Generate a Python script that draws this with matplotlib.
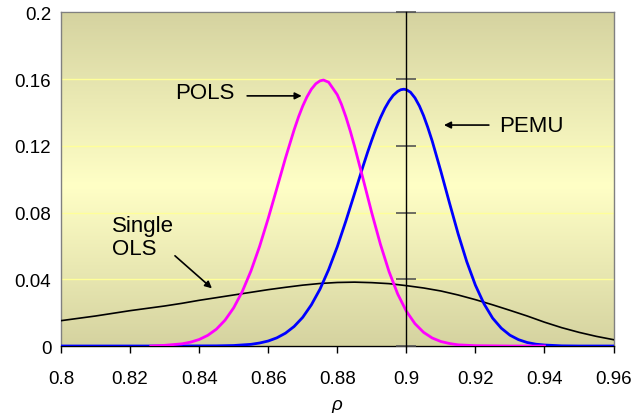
import numpy as np
import matplotlib
matplotlib.use("Agg")
import matplotlib.pyplot as plt
from matplotlib.colors import LinearSegmentedColormap

plt.rcParams['font.family'] = ['Liberation Sans', 'DejaVu Sans']

# ---- data ----
pols_x = [0.826, 0.830, 0.835, 0.8375, 0.840, 0.8425, 0.845, 0.8475, 0.850, 0.8525,
          0.855, 0.8575, 0.860, 0.8625, 0.865, 0.8675, 0.8688, 0.870, 0.8712, 0.8725,
          0.8738, 0.875, 0.876, 0.8775, 0.880, 0.8812, 0.8825, 0.8838, 0.885, 0.8875,
          0.890, 0.8925, 0.895, 0.8975, 0.900, 0.9025, 0.905, 0.9075, 0.910, 0.9125,
          0.915, 0.920, 0.930, 0.940]
pols_y = [0.0000, 0.0004, 0.0013, 0.0023, 0.0039, 0.0064, 0.0101, 0.0155, 0.0229, 0.0327,
          0.0450, 0.0597, 0.0765, 0.0945, 0.1127, 0.1296, 0.1375, 0.1439, 0.1493, 0.1540,
          0.1573, 0.1590, 0.1595, 0.1582, 0.1507, 0.1450, 0.1374, 0.1287, 0.1198, 0.1000,
          0.0798, 0.0610, 0.0446, 0.0312, 0.0209, 0.0134, 0.0082, 0.0048, 0.0027, 0.0015,
          0.0007, 0.0002, 0.0000, 0.0000]

pemu_x = [0.800, 0.830, 0.845, 0.850, 0.855, 0.8575, 0.860, 0.8625, 0.865, 0.8675,
          0.870, 0.8725, 0.875, 0.8775, 0.880, 0.8825, 0.885, 0.8875, 0.8888, 0.890,
          0.8912, 0.8925, 0.8938, 0.895, 0.8962, 0.8975, 0.8984, 0.8993, 0.900, 0.9012,
          0.9025, 0.9038, 0.905, 0.9062, 0.9075, 0.910, 0.9125, 0.915, 0.9175, 0.920,
          0.9225, 0.925, 0.9275, 0.930, 0.9325, 0.935, 0.9375, 0.940, 0.945, 0.950,
          0.960]
pemu_y = [0.0000, 0.0000, 0.0001, 0.0003, 0.0010, 0.0018, 0.0030, 0.0049, 0.0077, 0.0117,
          0.0172, 0.0247, 0.0341, 0.0458, 0.0595, 0.0750, 0.0914, 0.1080, 0.1163, 0.1235,
          0.1303, 0.1369, 0.1426, 0.1469, 0.1503, 0.1527, 0.1537, 0.1540, 0.1537, 0.1522,
          0.1488, 0.1439, 0.1381, 0.1312, 0.1229, 0.1048, 0.0858, 0.0673, 0.0506, 0.0365,
          0.0253, 0.0167, 0.0107, 0.0065, 0.0038, 0.0021, 0.0011, 0.0006, 0.0001, 0.0000,
          0.0000]

ols_x = [0.800, 0.805, 0.810, 0.815, 0.820, 0.825, 0.830, 0.835, 0.840, 0.845,
         0.850, 0.855, 0.860, 0.865, 0.870, 0.875, 0.880, 0.885, 0.890, 0.895,
         0.900, 0.905, 0.910, 0.915, 0.920, 0.925, 0.930, 0.935, 0.940, 0.945,
         0.950, 0.955, 0.960]
ols_y = [0.0152, 0.0166, 0.0180, 0.0196, 0.0212, 0.0226, 0.0240, 0.0256, 0.0274, 0.0290,
         0.0306, 0.0322, 0.0338, 0.0352, 0.0365, 0.0375, 0.0381, 0.0383, 0.0380, 0.0374,
         0.0362, 0.0348, 0.0330, 0.0306, 0.0278, 0.0247, 0.0214, 0.0180, 0.0143, 0.0110,
         0.0082, 0.0058, 0.0038]

x_ticks = [0.8, 0.82, 0.84, 0.86, 0.88, 0.9, 0.92, 0.94, 0.96]
x_tick_labels = ['0.8', '0.82', '0.84', '0.86', '0.88', '0.9', '0.92', '0.94', '0.96']
y_ticks = [0, 0.04, 0.08, 0.12, 0.16, 0.2]
y_tick_labels = ['0', '0.04', '0.08', '0.12', '0.16', '0.2']

fig = plt.figure(figsize=(6.33, 4.14), dpi=100)
ax = fig.add_axes([0.0964, 0.1618, 0.8728, 0.8056])

# gradient background
cmap = LinearSegmentedColormap.from_list(
    'bg', [(0.0, '#D5D3A0'), (0.48, '#FFFFC6'), (1.0, '#D5D3A0')])
grad = np.linspace(0, 1, 256).reshape(-1, 1)
ax.imshow(grad, cmap=cmap, extent=[0, 1, 0, 1], transform=ax.transAxes,
          aspect='auto', origin='lower', zorder=0)

ax.set_xlim(0.8, 0.96)
ax.set_ylim(0, 0.2)

ax.plot(ols_x, ols_y, color='black', lw=1.2, zorder=3)
ax.plot(pemu_x, pemu_y, color='#0000FF', lw=2.0, zorder=4, solid_joinstyle='round')
ax.plot(pols_x, pols_y, color='#FF00FF', lw=2.0, zorder=5, solid_joinstyle='round')

ax.set_axisbelow(True)
ax.yaxis.grid(True, color='#FFFF99', lw=1.0, zorder=1)
ax.xaxis.grid(False)

ax.set_xticks(x_ticks)
ax.set_xticklabels(x_tick_labels)
ax.set_yticks(y_ticks)
ax.set_yticklabels(y_tick_labels)
ax.tick_params(axis='x', direction='out', length=5, width=1, color='black',
               labelsize=13.5, pad=12)
ax.tick_params(axis='y', length=0, labelsize=13.5, pad=7)

for s in ['top', 'left', 'right']:
    ax.spines[s].set_color('#808080')
    ax.spines[s].set_linewidth(1.0)
ax.spines['bottom'].set_color('black')
ax.spines['bottom'].set_linewidth(1.0)

# vertical axis line at rho = 0.9 with crossing ticks
ax2 = ax.twinx()
ax2.set_ylim(0, 0.2)
ax2.set_yticks(y_ticks)
ax2.spines['right'].set_position(('axes', (0.9 - 0.8) / (0.96 - 0.8)))
ax2.spines['right'].set_color('black')
ax2.spines['right'].set_linewidth(1.0)
for s in ['top', 'left', 'bottom']:
    ax2.spines[s].set_visible(False)
ax2.tick_params(axis='y', direction='inout', length=14, width=1.2,
                color='#555555', labelright=False)
ax2.patch.set_visible(False)

ax.set_xlabel('ρ', fontsize=13.5, fontstyle='italic', labelpad=7)

arrow = dict(arrowstyle='-|>', color='black', lw=1.2, mutation_scale=10,
             shrinkA=0, shrinkB=0)
ax.annotate('', xy=(0.8697, 0.150), xytext=(0.8539, 0.150), arrowprops=arrow, zorder=6)
ax.text(0.8417, 0.152, 'POLS', fontsize=16, ha='center', va='center', zorder=6)

ax.annotate('', xy=(0.9109, 0.1325), xytext=(0.9239, 0.1325), arrowprops=arrow, zorder=6)
ax.text(0.9361, 0.1325, 'PEMU', fontsize=16, ha='center', va='center', zorder=6)

ax.annotate('', xy=(0.8437, 0.0346), xytext=(0.8330, 0.0541), arrowprops=arrow, zorder=6)
ax.text(0.8147, 0.0655, 'Single\nOLS', fontsize=16, ha='left', va='center',
        linespacing=1.1, zorder=6)

fig.savefig('out.png', dpi=100)
